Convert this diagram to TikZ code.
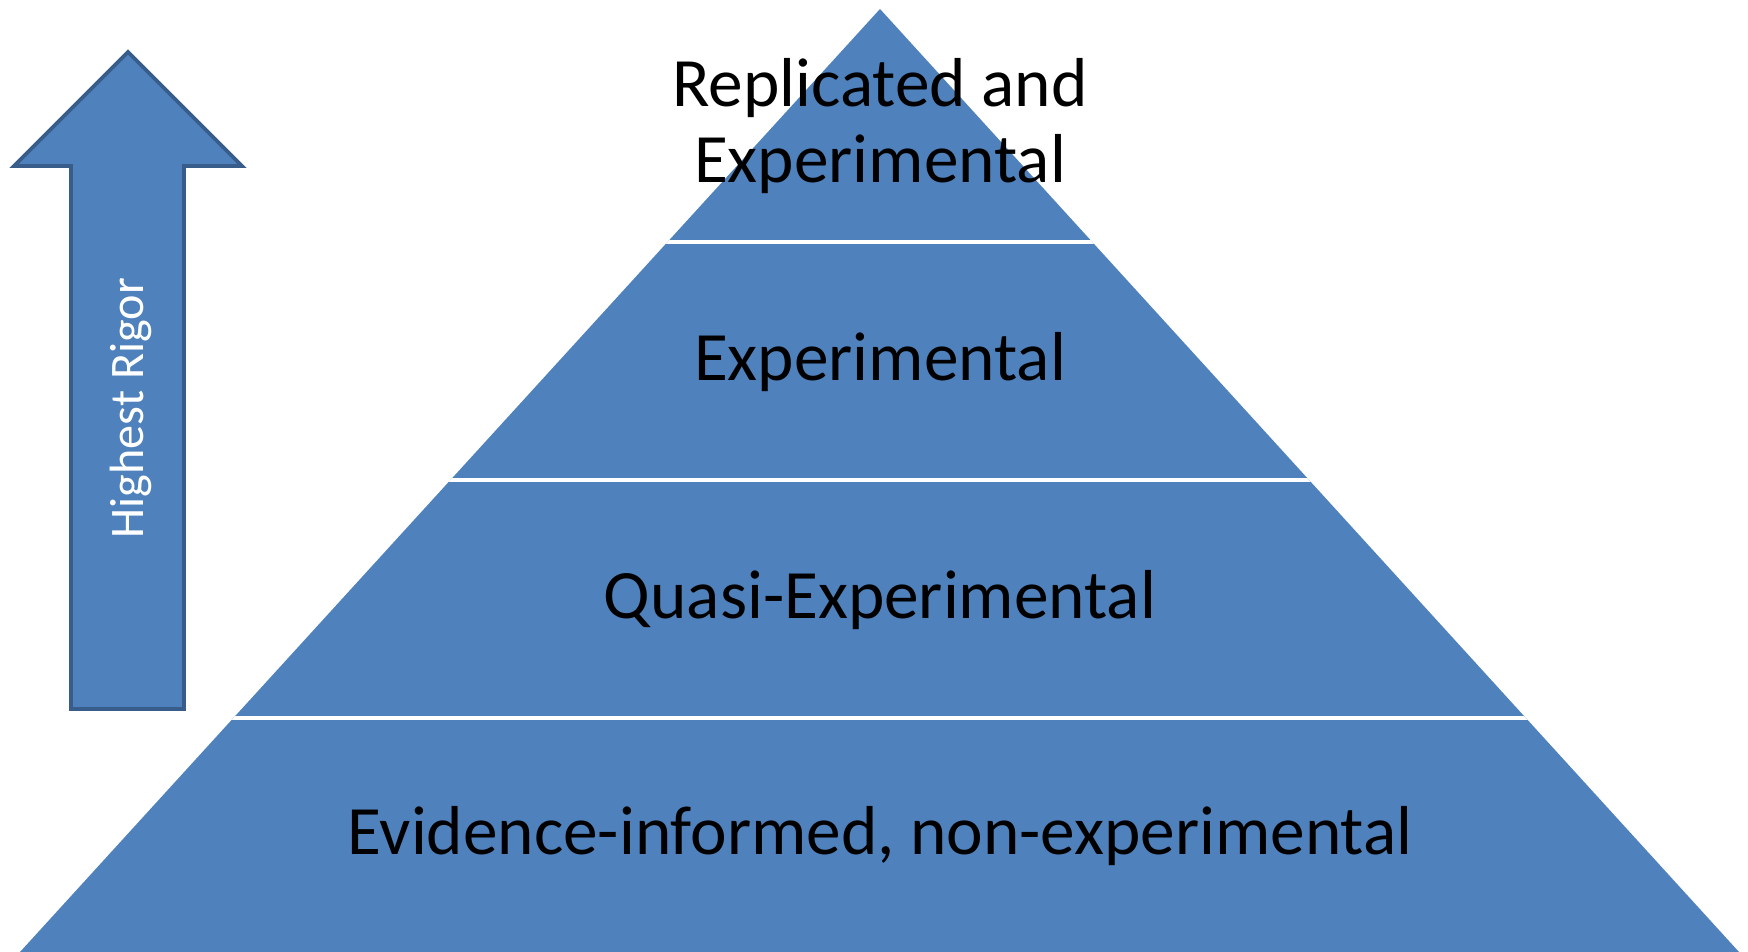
\documentclass[tikz,border=0pt]{standalone}
\usepackage{fontspec}
\setmainfont{Carlito}
\definecolor{pyrblue}{HTML}{4F81BD}
\definecolor{pyredge}{HTML}{385D8A}
\begin{document}
\begin{tikzpicture}[x=0.01cm,y=-0.01cm,
  level/.style={font=\fontsize{19.7}{21.6}\selectfont, text=black, align=center},
  cut/.style={white, line width=1.4pt}]
\useasboundingbox (0,0) rectangle (1748,952);

% pyramid
\coordinate (top) at (880,9);
\coordinate (bl) at (20,952);
\coordinate (br) at (1739,952);
\fill[pyrblue] (top) -- (br) -- (bl) -- cycle;
\begin{scope}
\clip (top) -- (br) -- (bl) -- cycle;
\draw[cut] (0,242) -- (1748,242);
\draw[cut] (0,480) -- (1748,480);
\draw[cut] (0,718) -- (1748,718);
\end{scope}

\node[level] (l4) at (880,126) {Replicated and\\Experimental};
\node[level] (l3) at (880,362) {Experimental};
\node[level] (l2) at (880,600) {Quasi-Experimental};
\node[level] (l1) at (880,836) {Evidence-informed, non-experimental};

% arrow
\draw[pyredge, fill=pyrblue, line width=1.1pt] (128,52) -- (242,166) -- (184,166)
  -- (184,709) -- (71,709) -- (71,166) -- (14,166) -- cycle;
\node[rotate=90, text=white, font=\fontsize{13.7}{16}\selectfont] (rigor) at (131,408) {Highest Rigor};

\end{tikzpicture}
\end{document}
